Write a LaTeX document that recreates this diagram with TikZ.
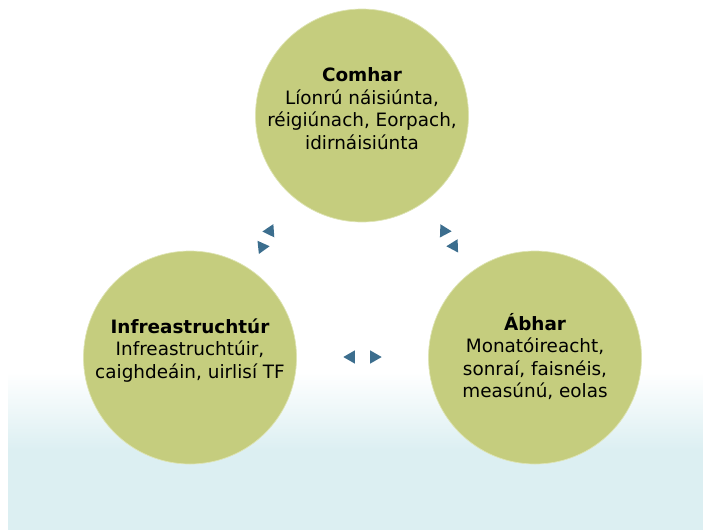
\documentclass[tikz,border=0pt]{standalone}
\usepackage{fontspec}
\setmainfont{DejaVu Sans}
\usetikzlibrary{shapes.geometric, positioning}
\definecolor{circlegreen}{RGB}{197,205,126}
\definecolor{ringgreen}{RGB}{222,228,180}
\definecolor{arrowblue}{RGB}{60,110,142}
\definecolor{bandcyan}{RGB}{220,239,242}

\begin{document}
\begin{tikzpicture}[x=1pt, y=-1pt,
        topic/.style={circle, fill=circlegreen, draw=ringgreen, line width=0.7pt, minimum size=213pt, inner sep=0pt},
        topictext/.style={align=center, inner sep=0pt, yshift=7pt, font=\fontsize{18.4}{22.5}\selectfont},
        pointer/.style={isosceles triangle, isosceles triangle apex angle=60, fill=arrowblue, inner sep=0pt, minimum size=11.5pt}
    ]
        % Canvas and background band
        \useasboundingbox (0,0) rectangle (703,530);
        \shade[top color=white, bottom color=bandcyan] (8,372) rectangle (703,450);
        \fill[bandcyan] (8,449.5) rectangle (703,530);

        % Topic circles
        \node[topic, label={[topictext]center:{\textbf{Comhar}\\Líonrú náisiúnta,\\réigiúnach, Eorpach,\\idirnáisiúnta}}] (comhar) at (362,115.5) {};
        \node[topic, label={[topictext]center:{\textbf{Infreastruchtúr}\\Infreastruchtúir,\\caighdeáin, uirlisí TF}}] (infra) at (190,357.5) {};
        \node[topic, label={[topictext, yshift=-6pt]center:{\textbf{Ábhar}\\Monatóireacht,\\sonraí, faisnéis,\\measúnú, eolas}}] (abhar) at (535,357.5) {};

        % Arrow heads between the circles
        \node[pointer, rotate=184] (tl-up) at (270,231) {};
        \node[pointer, rotate=6] (tl-down) at (262,247) {};
        \node[pointer, rotate=-2] (tr-up) at (444,231) {};
        \node[pointer, rotate=182] (tr-down) at (454,246) {};
        \node[pointer, rotate=180] (bt-left) at (351,357) {};
        \node[pointer] (bt-right) at (374,357) {};

    \end{tikzpicture}
\end{document}
